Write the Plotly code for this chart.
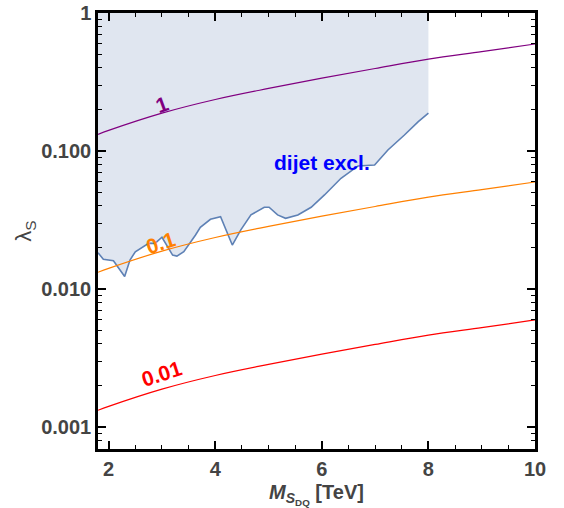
import math
import plotly.graph_objects as go

# Coupling curves (lambda_S vs M), labelled 1, 0.1, 0.01
m_curve = [1.8, 2, 3, 4, 5, 6, 7, 8, 9, 10]
lam_1 = [0.132, 0.141, 0.188, 0.236, 0.284, 0.337, 0.396, 0.463, 0.525, 0.596]
lam_01 = [0.0132, 0.0141, 0.0188, 0.0236, 0.0284, 0.0337, 0.0396, 0.0463, 0.0525, 0.0596]
lam_001 = [0.00132, 0.00141, 0.00188, 0.00236, 0.00284, 0.00337, 0.00396, 0.00463, 0.00525, 0.00596]

# Dijet exclusion boundary
m_dijet = [1.80, 1.90, 2.09, 2.30, 2.40, 2.50, 2.75, 2.87, 3.00, 3.20, 3.28, 3.41, 3.63, 3.72,
           3.91, 4.10, 4.32, 4.48, 4.67, 4.92, 5.01, 5.17, 5.32, 5.55, 5.80, 6.05, 6.36, 6.68,
           6.99, 7.24, 7.55, 7.81, 8.00]
lam_dijet = [0.0183, 0.0164, 0.0160, 0.0123, 0.0162, 0.0186, 0.0214, 0.0214, 0.0237, 0.0176,
             0.0173, 0.0186, 0.0246, 0.0280, 0.0320, 0.0334, 0.0208, 0.0268, 0.0344, 0.0391,
             0.0391, 0.0344, 0.0325, 0.0344, 0.0391, 0.0480, 0.0634, 0.0779, 0.0792, 0.1017,
             0.1306, 0.163, 0.188]
excl_top = 1.0

x_ticks = [2, 4, 6, 8, 10]
y_ticks = [0.001, 0.01, 0.1, 1]
y_ticktext = ["0.001", "0.010", "0.100", "1"]

FONT = "Liberation Sans, Arial, sans-serif"
GRAY = "#444444"

fig = go.Figure()

# shaded excluded region
fig.add_trace(go.Scatter(
    x=m_dijet + [m_dijet[-1], m_dijet[0]],
    y=lam_dijet + [excl_top, excl_top],
    fill="toself", fillcolor="rgba(224,230,240,1)",
    line=dict(width=0), mode="lines", hoverinfo="skip", showlegend=False))

fig.add_trace(go.Scatter(x=m_dijet, y=lam_dijet, mode="lines",
                         line=dict(color="rgb(94,129,181)", width=1.6), showlegend=False))

for ys, col in [(lam_1, "rgb(128,0,128)"), (lam_01, "rgb(255,128,0)"), (lam_001, "rgb(255,0,0)")]:
    fig.add_trace(go.Scatter(x=m_curve, y=ys, mode="lines", line=dict(color=col, width=1.2, shape="spline"),
                             showlegend=False))

labels = [
    (3.0, 0.219, "1", "rgb(128,0,128)", -20),
    (2.99, 0.0216, "0.1", "rgb(255,128,0)", -18),
    (3.0, 0.00245, "0.01", "rgb(255,0,0)", -18),
]
for x, y, t, c, ang in labels:
    fig.add_annotation(x=x, y=math.log10(y), yref="y", xref="x", text="<b>%s</b>" % t, showarrow=False,
                       font=dict(family=FONT, size=21, color=c), textangle=ang)
fig.add_annotation(x=6.0, y=math.log10(0.0832), text="<b>dijet excl.</b>", showarrow=False,
                   font=dict(family=FONT, size=21, color="rgb(0,0,255)"))

fig.update_xaxes(range=[1.8, 10], tickvals=x_ticks, ticks="inside", ticklen=8, tickwidth=1.5,
                 tickcolor="black", showline=True, linecolor="black", linewidth=2.5, mirror="allticks",
                 showgrid=False, zeroline=False, automargin=False,
                 minor=dict(ticks="inside", ticklen=4, dtick=0.5, tickcolor="black", tickwidth=1, showgrid=False),
                 tickfont=dict(family=FONT, size=20, color=GRAY, weight="bold"),
                 title=dict(text="<b><i>M</i><sub><i>S</i><sub>DQ</sub></sub> [TeV]</b>",
                            font=dict(family=FONT, size=20, color=GRAY), standoff=8))
fig.update_yaxes(type="log", range=[-3.16, 0], tickvals=y_ticks, ticktext=y_ticktext,
                 ticks="inside", ticklen=8, tickwidth=1.5, tickcolor="black",
                 showline=True, linecolor="black", linewidth=2.5, mirror="allticks",
                 showgrid=False, zeroline=False, automargin=False,
                 minor=dict(ticks="inside", ticklen=4, dtick="D1", tickcolor="black", tickwidth=1, showgrid=False),
                 tickfont=dict(family=FONT, size=20, color=GRAY, weight="bold"),
                 title=dict(text="λ<sub>S</sub>", font=dict(family=FONT, size=22, color=GRAY), standoff=4))

fig.update_layout(width=564, height=508, margin=dict(l=98, r=29, t=13, b=59),
                  plot_bgcolor="white", paper_bgcolor="white", showlegend=False)

fig.write_html("out.html")
